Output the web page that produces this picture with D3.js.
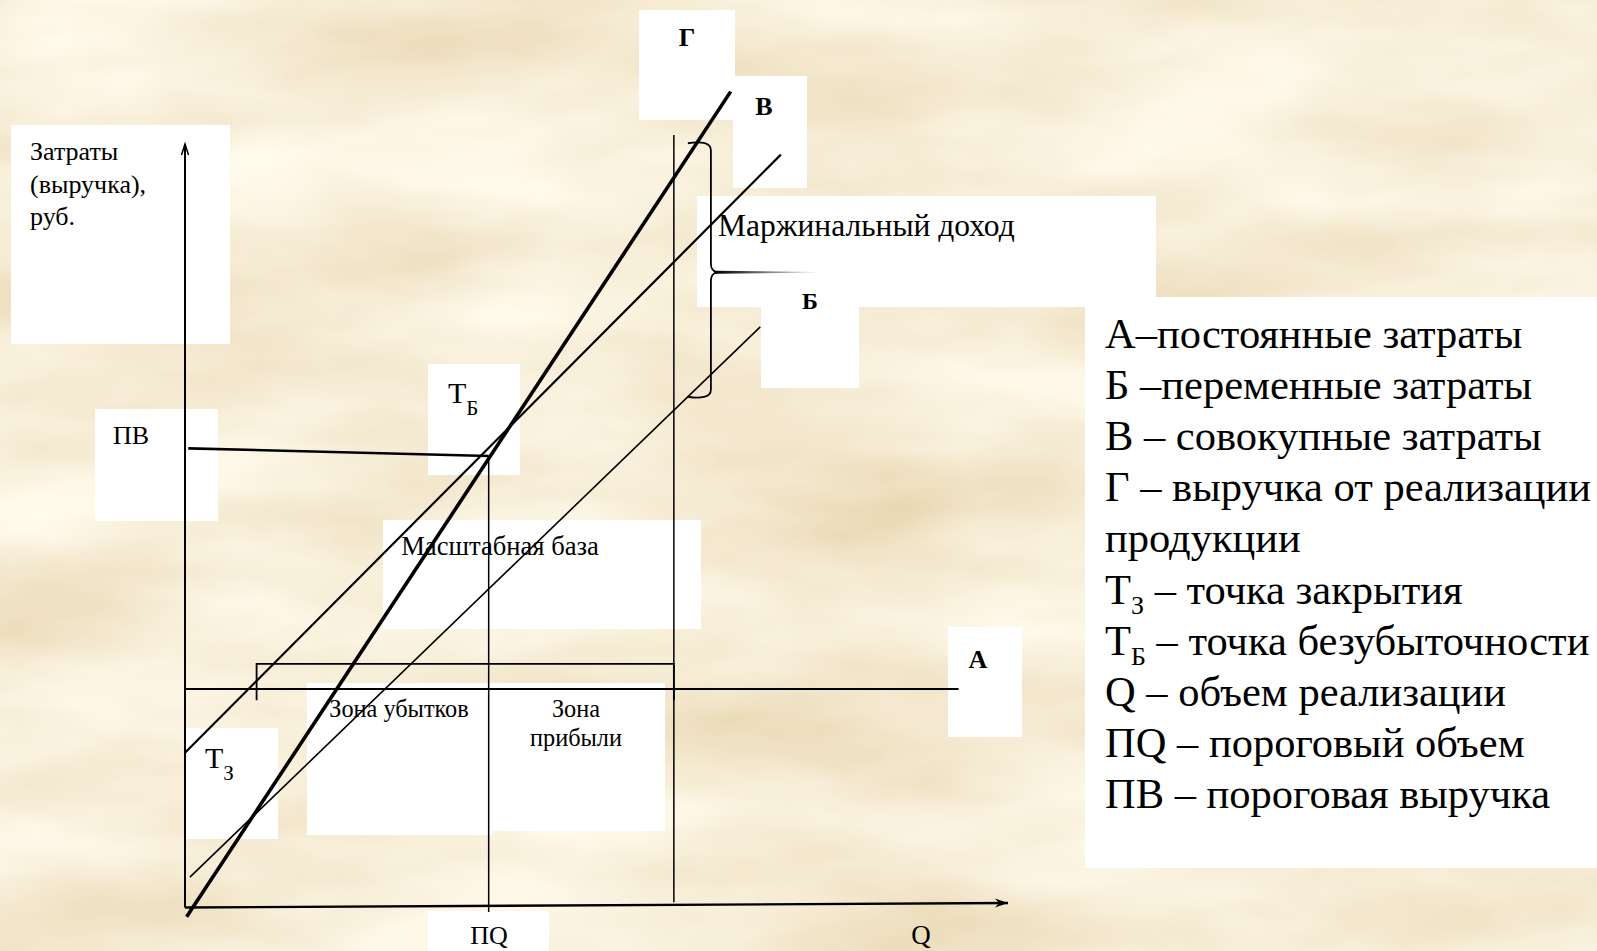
<!DOCTYPE html>
<html>
<head>
<meta charset="utf-8">
<script src="https://cdnjs.cloudflare.com/ajax/libs/d3/7.8.5/d3.min.js"></script>
<style>
  body { margin: 0; background: #ecd7ad; }
  svg { display: block; }
  text { font-family: "Liberation Serif", "Times New Roman", serif; fill: #000; }
</style>
</head>
<body>
<svg id="chart"></svg>
<script>
(function() {

  var width = 1597, height = 951

  // values are in chart units: Q along x (0..100), rubles along y (0..100)
  var fixedCostLine = [[0, 28.2], [94.0, 28.2]]           // А
  var variableCostLine = [[0.6, 3.4], [69.9, 75.9]]       // Б
  var totalCostLine = [[0, 19.8], [72.4, 98.6]]           // В
  var revenueLine = [[0.2, -1.8], [66.3, 106.9]]          // Г
  var thresholdRevenueLine = [[0.4, 59.9], [36.9, 58.9]]  // ПВ
  var thresholdVolumeLine = [[36.9, 58.9], [36.9, -1.2]]  // ПQ
  var actualVolumeLine = [[59.4, 101.2], [59.4, 0.1]]
  var scaleBaseBracket = [[8.7, 26.7], [8.7, 31.5], [59.4, 31.5], [59.4, 26.7]]
  var scaleBaseTick = [[54.1, 31.5], [54.1, 68.0]]
  // x of brace, hook end, pointer end ; y of top, middle, bottom
  var braceX = [63.9, 61.1, 77.4]
  var braceY = [100.1, 83.1, 66.7]
  var xAxisLine = [[0, -0.6], [100, 0]]
  var yAxisLine = [[0, -0.6], [0, 100]]

  var yTitle = ["Затраты", "(выручка),", "руб."]
  var legendItems = [
    ["А", "", "–постоянные затраты"],
    ["Б", "", " –переменные затраты"],
    ["В", "", " – совокупные затраты"],
    ["Г", "", " – выручка от реализации"],
    ["продукции", "", ""],
    ["Т", "З", " – точка закрытия"],
    ["Т", "Б", " – точка безубыточности"],
    ["Q", "", " – объем реализации"],
    ["ПQ", "", " – пороговый объем"],
    ["ПВ", "", " – пороговая выручка"]
  ]

  // white label boxes (pixel layout)
  var boxes = [
    [11, 125, 219, 219], [639, 10, 96, 110], [733, 76, 74, 112],
    [697, 196, 459, 111], [761, 280, 98, 108], [1085, 297, 512, 571],
    [95, 409, 123, 112], [428, 364, 92, 111], [383, 520, 318, 109],
    [307, 683, 186, 152], [492, 683, 173, 148], [186, 728, 92, 111],
    [948, 627, 74, 110], [428, 911, 121, 40]
  ]

  var svg = d3.select("#chart")
    .attr("width", width)
    .attr("height", height)

  var xPositionScale = d3.scaleLinear().domain([0, 100]).range([185, 1008])
  var yPositionScale = d3.scaleLinear().domain([0, 100]).range([903, 144])

  var line = d3.line()
    .x(function(d) { return xPositionScale(d[0]) })
    .y(function(d) { return yPositionScale(d[1]) })

  // parchment background
  var defs = svg.append("defs")
  var paper = defs.append("filter")
    .attr("id", "paper")
    .attr("filterUnits", "userSpaceOnUse")
    .attr("x", 0).attr("y", 0)
    .attr("width", width).attr("height", height)
  paper.append("feTurbulence")
    .attr("type", "fractalNoise")
    .attr("baseFrequency", "0.003 0.009")
    .attr("numOctaves", 4)
    .attr("seed", 11)
  paper.append("feColorMatrix")
    .attr("type", "matrix")
    .attr("values", "0.26 0 0 0 0.80  0.36 0 0 0 0.67  0.52 0 0 0 0.42  0 0 0 0 1")

  var fade = defs.append("linearGradient")
    .attr("id", "fade")
  fade.append("stop").attr("offset", "0%").attr("stop-color", "#000").attr("stop-opacity", 1)
  fade.append("stop").attr("offset", "100%").attr("stop-color", "#000").attr("stop-opacity", 0)

  var fadeUp = defs.append("linearGradient")
    .attr("id", "fadeUp")
    .attr("x1", 0).attr("y1", 1).attr("x2", 0).attr("y2", 0)
  fadeUp.append("stop").attr("offset", "0%").attr("stop-color", "#000").attr("stop-opacity", 1)
  fadeUp.append("stop").attr("offset", "100%").attr("stop-color", "#000").attr("stop-opacity", 0.2)

  svg.append("rect")
    .attr("width", width)
    .attr("height", height)
    .attr("fill", "#ecd7ad")
    .attr("filter", "url(#paper)")

  svg.selectAll(".box")
    .data(boxes)
    .enter()
    .append("rect")
    .attr("class", "box")
    .attr("x", function(d) { return d[0] })
    .attr("y", function(d) { return d[1] })
    .attr("width", function(d) { return d[2] })
    .attr("height", function(d) { return d[3] })
    .attr("fill", "#fff")

  // lines
  var lines = [
    { pts: yAxisLine, w: 2 },
    { pts: xAxisLine, w: 2.4 },
    { pts: fixedCostLine, w: 2 },
    { pts: variableCostLine, w: 1.6 },
    { pts: totalCostLine, w: 2.2 },
    { pts: revenueLine, w: 3.6 },
    { pts: thresholdRevenueLine, w: 2.6 },
    { pts: thresholdVolumeLine, w: 1.5 },
    { pts: actualVolumeLine, w: 1.5 },
    { pts: scaleBaseBracket, w: 1.8 }
  ]

  svg.selectAll(".line")
    .data(lines)
    .enter()
    .append("path")
    .attr("class", "line")
    .attr("d", function(d) { return line(d.pts) })
    .attr("fill", "none")
    .attr("stroke", "#000")
    .attr("stroke-width", function(d) { return d.w })

  svg.append("path")
    .attr("d", line(scaleBaseTick))
    .attr("fill", "none")
    .attr("stroke", "url(#fadeUp)")
    .attr("stroke-width", 1.5)

  // axis arrows
  var yTop = [xPositionScale(0), yPositionScale(100)]
  svg.append("path")
    .attr("d", "M" + (yTop[0] - 3.5) + "," + (yTop[1] + 11) + "L" + yTop[0] + "," + yTop[1] + "L" + (yTop[0] + 3.5) + "," + (yTop[1] + 11))
    .attr("fill", "none")
    .attr("stroke", "#000")
    .attr("stroke-width", 1.5)

  var xEnd = [xPositionScale(100), yPositionScale(0)]
  svg.append("path")
    .attr("d", "M" + (xEnd[0] - 13) + "," + (xEnd[1] - 4.5) + "L" + xEnd[0] + "," + xEnd[1] + "L" + (xEnd[0] - 13) + "," + (xEnd[1] + 4.5) + "L" + (xEnd[0] - 9) + "," + xEnd[1] + "Z")
    .attr("fill", "#000")

  // curly brace for marginal income
  var bx = xPositionScale(braceX[0]), hx = xPositionScale(braceX[1]), px = xPositionScale(braceX[2])
  var bt = yPositionScale(braceY[0]), bm = yPositionScale(braceY[1]), bb = yPositionScale(braceY[2])
  svg.append("path")
    .attr("d", "M" + hx + "," + bt +
      "C" + (hx + 12) + "," + (bt - 2) + " " + bx + "," + (bt - 1) + " " + bx + "," + (bt + 7) +
      "L" + bx + "," + (bm - 9) +
      "C" + bx + "," + (bm - 3) + " " + (bx + 2) + "," + (bm - 1) + " " + (bx + 6) + "," + bm +
      "C" + (bx + 2) + "," + (bm + 1) + " " + bx + "," + (bm + 3) + " " + bx + "," + (bm + 9) +
      "L" + bx + "," + (bb - 7) +
      "C" + bx + "," + (bb + 1) + " " + (hx + 12) + "," + (bb + 2) + " " + hx + "," + bb)
    .attr("fill", "none")
    .attr("stroke", "#000")
    .attr("stroke-width", 1.8)

  svg.append("path")
    .attr("d", "M" + (bx + 5) + "," + (bm - 1.4) + "L" + px + "," + (bm - 0.3) + "L" + px + "," + (bm + 0.3) + "L" + (bx + 5) + "," + (bm + 1.4) + "Z")
    .attr("fill", "url(#fade)")

  // labels
  var title = svg.append("text")
    .attr("font-size", 26)
  title.selectAll("tspan")
    .data(yTitle)
    .enter()
    .append("tspan")
    .attr("x", 30)
    .attr("y", function(d, i) { return 160 + i * 32.5 })
    .text(function(d) { return d })

  var labels = [
    { t: "Г", x: 687, y: 46, s: 26, b: true, a: "middle" },
    { t: "В", x: 764, y: 115, s: 26, b: true, a: "middle" },
    { t: "Б", x: 810, y: 309, s: 24, b: true, a: "middle" },
    { t: "А", x: 978, y: 668, s: 26, b: true, a: "middle" },
    { t: "ПВ", x: 113, y: 444, s: 26, a: "start" },
    { t: "Маржинальный доход", x: 718, y: 236, s: 31.5, a: "start" },
    { t: "Масштабная база", x: 500, y: 555, s: 26.6, a: "middle" },
    { t: "Зона убытков", x: 399, y: 717, s: 24.3, a: "middle" },
    { t: "Зона", x: 576, y: 717, s: 24.3, a: "middle" },
    { t: "прибыли", x: 576, y: 746, s: 24.3, a: "middle" },
    { t: "ПQ", x: 489, y: 944, s: 26, a: "middle" },
    { t: "Q", x: 921, y: 944, s: 27, a: "middle" }
  ]

  svg.selectAll(".label")
    .data(labels)
    .enter()
    .append("text")
    .attr("class", "label")
    .attr("x", function(d) { return d.x })
    .attr("y", function(d) { return d.y })
    .attr("font-size", function(d) { return d.s })
    .attr("font-weight", function(d) { return d.b ? "bold" : "normal" })
    .attr("text-anchor", function(d) { return d.a })
    .text(function(d) { return d.t })

  var points = [["Б", 448, 403], ["З", 205, 768]]
  points.forEach(function(p) {
    var t = svg.append("text").attr("x", p[1]).attr("y", p[2]).attr("font-size", 30)
    t.append("tspan").text("Т")
    t.append("tspan").attr("font-size", 21).attr("dy", 12).text(p[0])
  })

  // legend
  var legend = svg.selectAll(".legend")
    .data(legendItems)
    .enter()
    .append("text")
    .attr("class", "legend")
    .attr("x", 1105)
    .attr("y", function(d, i) { return 348 + i * 51.1 })
    .attr("font-size", 42.5)

  legend.append("tspan").text(function(d) { return d[0] })
  legend.append("tspan")
    .attr("font-size", 26)
    .attr("dy", function(d) { return d[1] ? 10 : 0 })
    .text(function(d) { return d[1] })
  legend.append("tspan")
    .attr("dy", function(d) { return d[1] ? -10 : 0 })
    .text(function(d) { return d[2] })

})()
</script>
</body>
</html>
